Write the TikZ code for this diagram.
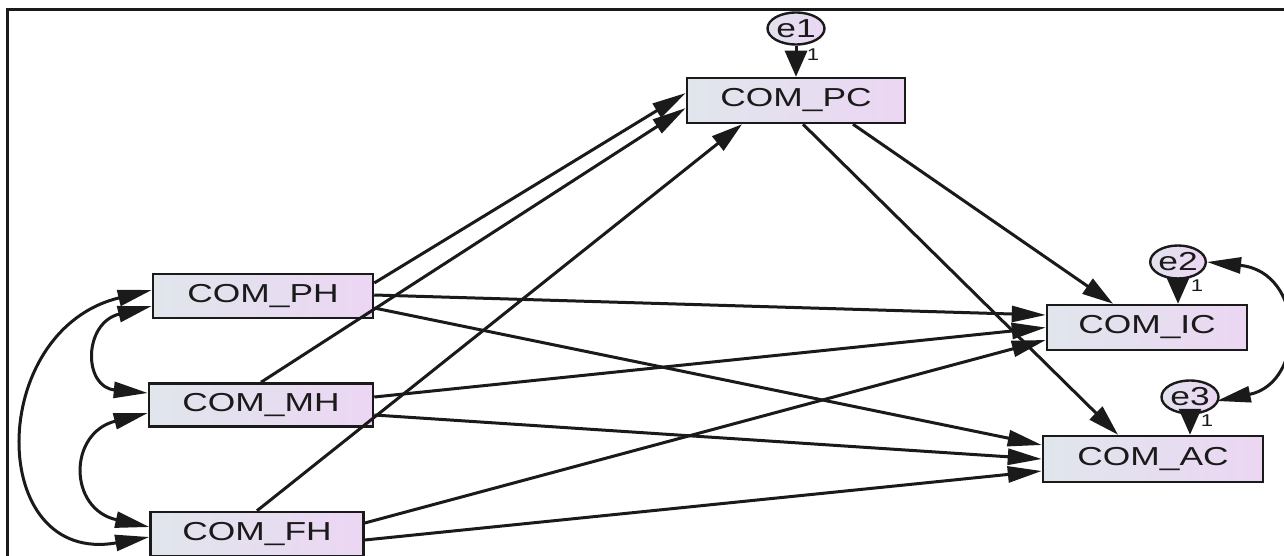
\documentclass[tikz,border=0pt]{standalone}
\usepackage{fontspec}
\setmainfont{Liberation Sans}
\usepackage{graphicx}
\usetikzlibrary{arrows.meta,shapes.geometric,calc}
\definecolor{boxl}{HTML}{E0E6EC}
\definecolor{boxr}{HTML}{ECD6F3}
\definecolor{ell}{HTML}{E6DBF0}
\definecolor{ink}{HTML}{1A1A1A}
\newcommand{\wide}[1]{\scalebox{1.36}[1]{#1}}
\begin{document}
\begin{tikzpicture}[x=1pt,y=-1pt,
  varbox/.style={draw=ink, line width=2.5pt, left color=boxl, right color=boxr,
    inner sep=0pt, text=ink, font=\fontsize{26}{30}\selectfont},
  errell/.style={ellipse, draw=ink, line width=2.4pt, left color=boxl!60!ell, right color=boxr,
    inner sep=0pt, minimum width=57pt, minimum height=32pt, text=ink, font=\fontsize{26}{30}\selectfont},
  arr/.style={draw=ink, line width=3pt, -{Triangle[length=34pt,width=16pt]}},
  sarr/.style={draw=ink, line width=3pt, -{Triangle[length=31pt,width=18pt]}},
  varr/.style={draw=ink, line width=3pt, -{Triangle[length=26pt,width=22pt]}},
  cov/.style={draw=ink, line width=3pt, {Triangle[length=34pt,width=16pt]}-{Triangle[length=34pt,width=16pt]}},
  one/.style={text=ink, font=\fontsize{17}{18}\selectfont, inner sep=0pt}
]
\useasboundingbox (0,0) rectangle (1284,556);
\fill[white] (0,0) rectangle (1284,556);
\draw[line width=3pt, draw=ink] (7.5,556) -- (7.5,10) -- (1284,10);

% variables
\node[varbox, minimum width=218pt, minimum height=45pt] (pc) at (796,100.5) {\wide{COM\_PC}};
\node[varbox, minimum width=220pt, minimum height=44pt] (ph) at (263,296) {\wide{COM\_PH}};
\node[varbox, minimum width=224pt, minimum height=43pt] (mh) at (261,405) {\wide{COM\_MH}};
\node[varbox, minimum width=213pt, minimum height=44pt] (fh) at (257,534) {\wide{COM\_FH}};
\node[varbox, minimum width=200pt, minimum height=45pt] (ic) at (1147,327.5) {\wide{COM\_IC}};
\node[varbox, minimum width=220pt, minimum height=46pt] (ac) at (1153,459) {\wide{COM\_AC}};

% errors
\node[errell] (e1) at (796,28.5) {\wide{e1}};
\node[errell, minimum width=55pt, minimum height=33pt] (e2) at (1178,262) {\wide{e2}};
\node[errell, minimum width=57pt, minimum height=33pt] (e3) at (1190,397) {\wide{e3}};

\draw[varr] (e1.south) -- (e1.south |- pc.north);
\draw[varr] (e2.south) -- (e2.south |- ic.north);
\draw[varr] (e3.south) -- (e3.south |- ac.north);
\node[one] (l1) at (813,55) {\scalebox{1.3}[1]{1}};
\node[one] (l2) at (1197,286) {\scalebox{1.3}[1]{1}};
\node[one] (l3) at (1207,421) {\scalebox{1.3}[1]{1}};

% paths into PC
\draw[arr] ($(ph.east)+(0,-13)$) -- ($(pc.west)+(0,-7.5)$);
\draw[arr] (mh.north) -- ($(pc.west)+(0,7.5)$);
\draw[sarr] (fh.north) -- ($(pc.south)+(-54,0)$);

% paths from PC
\draw[sarr] ($(pc.south)+(57,0)$) -- ($(ic.north)+(-34,0)$);
\draw[sarr] ($(pc.south)+(7,0)$) -- ($(ac.north)+(-35,0)$);

% paths into IC
\draw[arr] ($(ph.east)+(0,-1)$) -- ($(ic.west)+(0,-12.5)$);
\draw[arr] ($(mh.east)+(0,-8)$) -- (ic.west);
\draw[arr] ($(fh.east)+(0,-11)$) -- ($(ic.west)+(0,12.5)$);

% paths into AC
\draw[arr] ($(ph.east)+(0,12)$) -- ($(ac.west)+(0,-14)$);
\draw[arr] ($(mh.east)+(0,10)$) -- (ac.west);
\draw[arr] ($(fh.east)+(0,6)$) -- ($(ac.west)+(0,12)$);

% covariances
\draw[cov] ($(ph.west)+(0,10)$) .. controls (83,323) and (83,387) .. ($(mh.west)+(0,-12)$);
\draw[cov] ($(mh.west)+(0,8)$) .. controls (68,433) and (68,509) .. ($(fh.west)+(0,-7)$);
\draw[cov] ($(ph.west)+(0,-6)$) .. controls (-14,330) and (-14,566) .. ($(fh.west)+(0,3)$);
\draw[cov] (e2.east) .. controls (1306,272) and (1306,383) .. ($(e3.east)+(-3,4)$);
\end{tikzpicture}
\end{document}
